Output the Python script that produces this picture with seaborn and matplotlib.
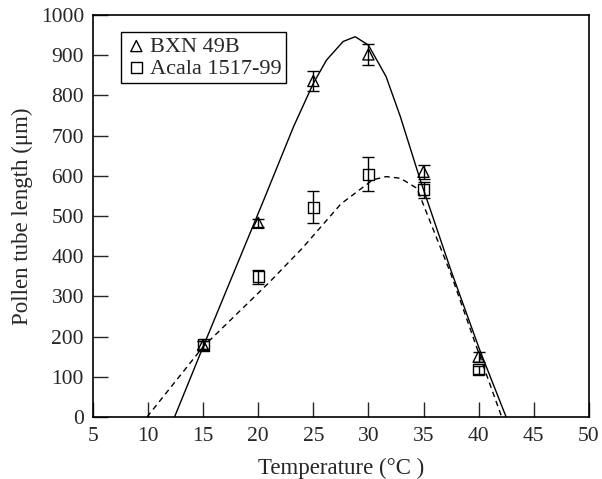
import numpy as np
import pandas as pd
import matplotlib
matplotlib.use("Agg")
import matplotlib.pyplot as plt
import seaborn as sns

# measured points
temps = [15, 20, 25, 30, 35, 40]
bxn_mean = [179, 483, 836, 902, 610, 150]
bxn_err = [10, 10, 24, 27, 17, 12]
acala_mean = [179, 349, 522, 604, 565, 118]
acala_err = [10, 17, 40, 43, 20, 10]

# fitted curves
bxn_fit_t = [12.4, 15.0, 17.5, 20.5, 23.2, 25.0, 26.2, 27.7, 28.8, 30.0, 31.6, 32.9, 34.7, 37.5, 40.1, 42.5]
bxn_fit_y = [0, 175, 341, 540, 722, 830, 888, 934, 946, 925, 847, 747, 590, 364, 167, 0]
acala_fit_t = [9.9, 15.0, 21.0, 24.0, 27.5, 30.4, 31.6, 32.9, 34.4, 37.5, 40.0, 42.1]
acala_fit_y = [0, 175, 335, 420, 530, 590, 598, 594, 569, 355, 160, 0]

sns.set_style("ticks")
plt.rcParams['font.family'] = ['Liberation Serif', 'DejaVu Serif']
plt.rcParams['font.size'] = 16

fig, ax = plt.subplots(figsize=(6.02, 4.79), dpi=100)
fig.subplots_adjust(left=0.1545, right=0.978, top=0.9687, bottom=0.1294)

sns.lineplot(x=bxn_fit_t, y=bxn_fit_y, ax=ax, color="black", linewidth=1.0, sort=False)
sns.lineplot(x=acala_fit_t, y=acala_fit_y, ax=ax, color="black", linewidth=1.0,
             linestyle=(0, (4, 3)), sort=False)

ax.errorbar(temps, bxn_mean, yerr=bxn_err, fmt="none", ecolor="black", elinewidth=1.0, capsize=4)
ax.errorbar(temps, acala_mean, yerr=acala_err, fmt="none", ecolor="black", elinewidth=1.0, capsize=4)

sns.scatterplot(x=temps, y=bxn_mean, ax=ax, marker="^", s=64, facecolor="none",
                edgecolor="black", linewidth=1.0, label="BXN 49B")
sns.scatterplot(x=temps, y=acala_mean, ax=ax, marker="s", s=64, facecolor="none",
                edgecolor="black", linewidth=1.0, label="Acala 1517-99")

ax.set_xlim(5, 50)
ax.set_ylim(0, 1000)
ax.set_xticks(range(5, 51, 5))
ax.set_yticks(range(0, 1001, 100))
ax.tick_params(direction="in", length=11, width=1.0, labelsize=15.5)
ax.tick_params(axis="y", pad=6.5)
ax.tick_params(axis="x", pad=7)
for s in ax.spines.values():
    s.set_linewidth(1.2)
    s.set_color("black")

ax.set_xlabel("Temperature (°C )", fontsize=16.5, labelpad=9)
ax.set_ylabel("Pollen tube length (μm)", fontsize=16.5, labelpad=5.5)

leg = ax.legend(loc="upper left", bbox_to_anchor=(0.056, 0.958), frameon=True, fancybox=False,
                edgecolor="black", framealpha=1, handletextpad=0.1, borderpad=0.2,
                handlelength=1.0, labelspacing=0.05, fontsize=16, borderaxespad=0)
leg.get_frame().set_linewidth(1.0)

fig.savefig("out.png", dpi=100)
